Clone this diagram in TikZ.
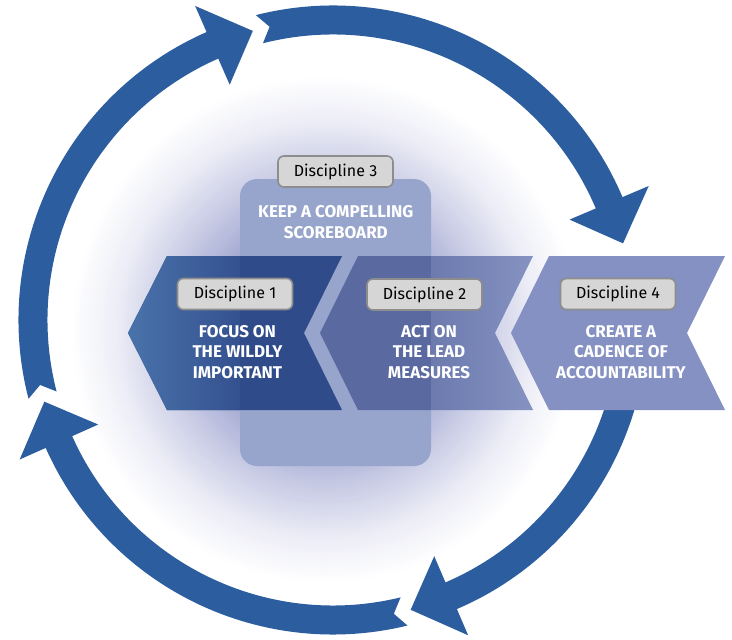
\documentclass[tikz,border=0pt]{standalone}
\usepackage{fontspec}
\setmainfont{Fira Sans}
\usetikzlibrary{calc}
\definecolor{ringblue}{RGB}{43,93,159}
\definecolor{glowT}{RGB}{120,128,190}
\definecolor{scorefill}{RGB}{151,165,204}
\definecolor{chAlight}{RGB}{74,115,171}
\definecolor{chAmid}{RGB}{52,81,143}
\definecolor{chAdark}{RGB}{47,75,138}
\definecolor{chBdark}{RGB}{90,105,160}
\definecolor{chBa}{RGB}{108,122,174}
\definecolor{chBb}{RGB}{135,148,195}
\definecolor{chD}{RGB}{132,145,194}
\definecolor{boxfill}{RGB}{214,214,214}
\definecolor{boxline}{RGB}{141,141,141}
\newcommand\ringRc{300}
\newcommand\ringRo{314.5}
\newcommand\ringRi{285.5}
\newcommand\ringRho{343}
\newcommand\ringRhi{257}
% #1 tail angle, #2 notch angle, #3 head base angle, #4 tip angle
\newcommand\ringarrow[4]{%
  \fill[ringblue] ($(C)+(#1:\ringRo)$) arc[start angle=#1, end angle=#3, radius=\ringRo]
   -- ($(C)+(#3:\ringRho)$) -- ($(C)+(#4:\ringRc)$) -- ($(C)+(#3:\ringRhi)$) -- ($(C)+(#3:\ringRi)$)
   arc[start angle=#3, end angle=#1, radius=\ringRi] -- ($(C)+(#2:\ringRc)$) -- cycle;}
\begin{document}
\begin{tikzpicture}[x=1pt,y=1pt,
  disc/.style={draw=boxline, fill=boxfill, line width=1.6pt, rounded corners=6pt,
    minimum width=115pt, minimum height=31pt, inner sep=0pt,
    font=\fontsize{16}{19}\selectfont, text=black},
  title/.style={align=center, text=white, inner sep=0pt,
    font=\bfseries\fontsize{17}{20.5}\selectfont}]
\useasboundingbox (0,0) rectangle (732,-640);
\fill[white] (0,0) rectangle (732,-640);
% soft glow behind the disciplines
\foreach \r in {255,252,...,3} {
  \pgfmathsetmacro\gp{\r<100 ? 75 : (\r<138 ? 75-(\r-100)*0.5895 : (\r<174 ? 52.6-(\r-138)*0.5444 : (\r<210 ? 33-(\r-174)*0.5278 : (\r<255 ? 14-(\r-210)*0.3111 : 0))))}
  \fill[glowT!\gp!white] (325,-330) circle (\r);
}
% ring of arrows
\coordinate (C) at (333,-320);
\ringarrow{194.5}{192.5}{113.7}{105.5}
\ringarrow{104.2}{102.2}{23}{14.8}
\ringarrow{5}{3}{-66.8}{-75}
\ringarrow{-76.3}{-78.3}{-156}{-164.2}
% scoreboard panel
\fill[scorefill, rounded corners=17pt] (240,-179) rectangle (431,-466);
% chevron 1
\begin{scope}
  \clip (167,-256) -- (342,-256) -- (304,-333) -- (342,-410) -- (167,-410) -- (128,-333) -- cycle;
  \fill[chAdark] (120,-250) rectangle (350,-420);
  \shade[left color=chAlight, right color=chAmid] (127,-250) rectangle (240,-420);
\end{scope}
% chevron 2
\begin{scope}
  \clip (358,-256) -- (533,-256) -- (495,-333) -- (533,-410) -- (358,-410) -- (320,-333) -- cycle;
  \fill[chBdark] (310,-250) rectangle (431,-420);
  \shade[left color=chBa, right color=chBb] (431,-250) rectangle (540,-420);
\end{scope}
% chevron 4
\fill[chD] (549,-256) -- (725,-256) -- (687,-333) -- (725,-410) -- (549,-410) -- (511,-333) -- cycle;
% labels
\node[disc] (d3) at (335.5,-171.5) {Discipline 3};
\node[disc] (d1) at (235,-294) {Discipline 1};
\node[disc] (d2) at (424.5,-294.5) {Discipline 2};
\node[disc] (d4) at (618,-294) {Discipline 4};
\node[title] (t3) at (335.8,-222) {KEEP A COMPELLING\\SCOREBOARD};
\node[title] (t1) at (237.5,-351.7) {FOCUS ON\\THE WILDLY\\IMPORTANT};
\node[title] (t2) at (429,-351.7) {ACT ON\\THE LEAD\\MEASURES};
\node[title] (t4) at (621,-351.7) {CREATE A\\CADENCE OF\\ACCOUNTABILITY};
\end{tikzpicture}
\end{document}
